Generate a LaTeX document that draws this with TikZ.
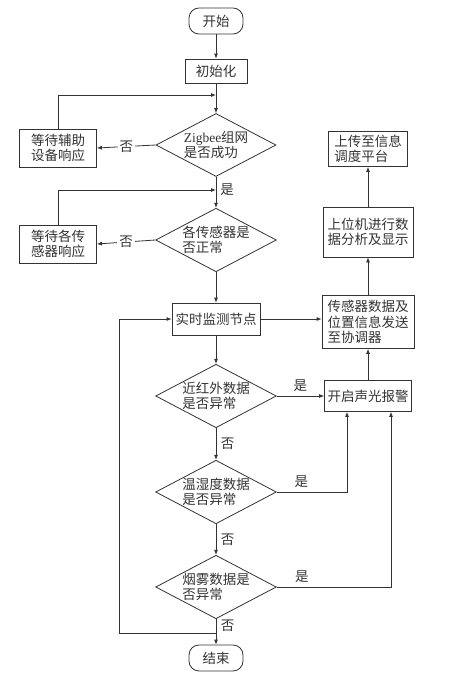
\documentclass[tikz,border=0pt]{standalone}
\usepackage{fontspec}
\setmainfont{Liberation Serif}
\newfontfamily\cjk{Noto Sans CJK SC}
\usetikzlibrary{arrows.meta,shapes.geometric}
\definecolor{ink}{HTML}{333333}
\tikzstyle{terminal}=[draw=ink, line width=0.8pt, rounded corners=10pt, minimum width=54pt, minimum height=26pt, inner sep=0pt]
\tikzstyle{process}=[draw=ink, line width=0.8pt, inner sep=2pt, align=left]
\tikzstyle{decision}=[draw=ink, line width=0.8pt, diamond, aspect=1.9, inner sep=0pt, align=left, minimum width=120pt, minimum height=63pt]
\tikzstyle{arrow edge} = [draw=ink, line width=0.8pt, -{Latex[length=5pt,width=4pt]}]
\tikzstyle{plain edge} = [draw=ink, line width=0.8pt, -]
\tikzstyle{note} = [fill=white, inner sep=2pt]

\begin{document}
\begin{tikzpicture}[x=1pt, y=-1pt, node font=\cjk\fontsize{13.5}{15.5}\selectfont, text=ink]
		\useasboundingbox (0,0) rectangle (450,680);
		% First we draw the terminals and boxes
		\foreach \pos/\label/\name in {{(216,21)/start/开始}, {(216,658)/stop/结束}}
		\node[terminal] (\label) at \pos {\name};
		
		\foreach \pos/\label/\w/\h/\name in {
			{(216,71)/init/62/24/初始化},
			{(58,148)/wait1/77/38/等待辅助\\设备响应},
			{(58,244)/wait2/77/38/等待各传\\感器响应},
			{(216,319)/monitor/88/32/实时监测节点},
			{(368,149)/upload/79/35/上传至信息\\调度平台},
			{(368,232)/upper/90/50/上位机进行数\\据分析及显示},
			{(368,322)/send/92/53/传感器数据及\\位置信息发送\\至协调器},
			{(368,396)/alarm/87/31/开启声光报警}}
		\node[process, minimum width=\w pt, minimum height=\h pt] (\label) at \pos {\name};
		
		\foreach \pos/\label/\name in {
			{(216,145)/zig/{\rmfamily Zigbee}组网\\是否成功},
			{(216,240)/sens/各传感器是\\否正常},
			{(216,396)/nir/近红外数据\\是否异常},
			{(216,492)/temp/温湿度数据\\是否异常},
			{(216,587)/smoke/烟雾数据是\\否异常}}
		\node[decision] (\label) at \pos {\name};
		
		% Junction points
		\coordinate (m1) at (216,95);
		\coordinate (m2) at (216,190);
		\coordinate (m3) at (216,633);
		\coordinate (loop) at (119,633);
		\coordinate (t1) at (347,492);
		\coordinate (s1) at (391,587);
		
		% Connect the nodes
		\path[arrow edge] (start) -- (init);
		\path[plain edge] (init) -- (m1);
		\path[arrow edge] (m1) -- (zig);
		\path[arrow edge] (wait1.north) |- (m1);
		\path[arrow edge] (zig.west) -- node[note]{否} (wait1.east);
		\path[plain edge] (zig.south) -- (m2) node[right, inner sep=4pt]{是};
		\path[arrow edge] (m2) -- (sens);
		\path[arrow edge] (wait2.north) |- (m2);
		\path[arrow edge] (sens.west) -- node[note]{否} (wait2.east);
		\path[arrow edge] (sens) -- (monitor);
		\path[arrow edge] (monitor.east) -- (monitor.east -| send.west);
		\path[arrow edge] (monitor) -- (nir);
		\path[arrow edge] (nir.east) -- node[above]{是} (alarm.west);
		\path[arrow edge] (nir) -- node[right]{否} (temp);
		\path[arrow edge] (temp) -- node[right]{否} (smoke);
		\path[plain edge] (smoke.south) -- node[right]{否} (m3);
		\path[arrow edge] (m3) -- (stop);
		\path[arrow edge] (m3) -- (loop) |- (monitor.west);
		\path[arrow edge] (temp.east) -- node[above, pos=0.35]{是} (t1) -- (t1 |- alarm.south);
		\path[arrow edge] (smoke.east) -- node[above, pos=0.22]{是} (s1) -- (s1 |- alarm.south);
		\path[arrow edge] (alarm) -- (send);
		\path[arrow edge] (send) -- (upper);
		\path[arrow edge] (upper) -- (upload);
\end{tikzpicture}
\end{document}
